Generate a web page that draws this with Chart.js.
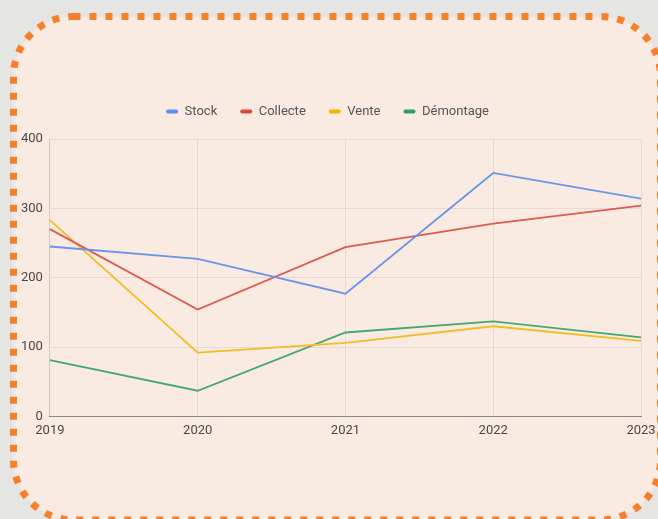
<!DOCTYPE html>
<html>
<head>
<meta charset="utf-8">
<script src="https://cdn.jsdelivr.net/npm/chart.js@4"></script>
<style>
  html, body { margin: 0; padding: 0; background: #e5e5e3; }
  #wrap { width: 658px; height: 519px; }
</style>
</head>
<body>
<div id="wrap"><canvas id="lineChart" width="658" height="519"></canvas></div>
<script>
const years = ['2019', '2020', '2021', '2022', '2023']
const stock = [245, 227, 177, 351, 314]
const collecte = [270, 154, 244, 278, 304]
const vente = [283, 92, 106, 130, 109]
const demontage = [81, 37, 121, 137, 114]
const yTicks = [0, 100, 200, 300, 400]

// fond gris + carte pêche avec bordure pointillée orange
const cardBackground = {
    id: 'cardBackground',
    beforeDraw: (chart) => {
        const ctx = chart.ctx
        const w = chart.width, h = chart.height
        ctx.save()
        ctx.fillStyle = '#e5e5e3'
        ctx.fillRect(0, 0, w, h)
        const x0 = 13.5, y0 = 16.5, x1 = 660.5, y1 = 520, r = 60
        ctx.beginPath()
        ctx.moveTo(x0 + r, y0)
        ctx.lineTo(x1 - r, y0)
        ctx.arcTo(x1, y0, x1, y0 + r, r)
        ctx.lineTo(x1, y1 - r)
        ctx.arcTo(x1, y1, x1 - r, y1, r)
        ctx.lineTo(x0 + r, y1)
        ctx.arcTo(x0, y1, x0, y1 - r, r)
        ctx.lineTo(x0, y0 + r)
        ctx.arcTo(x0, y0, x0 + r, y0, r)
        ctx.closePath()
        ctx.fillStyle = '#f9ebe2'
        ctx.fill()
        ctx.strokeStyle = '#f77f2c'
        ctx.lineWidth = 7
        ctx.setLineDash([7, 9])
        ctx.stroke()
        ctx.restore()
    }
}

// un peu plus d'espace sous la légende
const legendGap = {
    id: 'legendGap',
    beforeInit: (chart) => {
        const fit = chart.legend.fit
        chart.legend.fit = function () {
            fit.bind(chart.legend)()
            this.height += 11
        }
    }
}

const ctx = document.getElementById('lineChart').getContext('2d')

new Chart(ctx, {
    type: 'line',
    data: {
        labels: years,
        datasets: [
            { label: 'Stock', data: stock, borderColor: '#6a95e8', backgroundColor: '#5b8ff0' },
            { label: 'Collecte', data: collecte, borderColor: '#dd5a50', backgroundColor: '#e0463a' },
            { label: 'Vente', data: vente, borderColor: '#f2bc25', backgroundColor: '#f4b400' },
            { label: 'Démontage', data: demontage, borderColor: '#44a96c', backgroundColor: '#2f9e5e' }
        ]
    },
    options: {
        responsive: false,
        animation: false,
        elements: {
            point: { radius: 0, hitRadius: 10 },
            line: { borderWidth: 1.8, tension: 0 }
        },
        layout: {
            padding: { top: 82, left: 14, right: 17, bottom: 73 }
        },
        scales: {
            x: {
                afterFit: (scale) => { scale.paddingRight = 0 },
                grid: { color: 'rgba(0,0,0,0.07)', drawTicks: false },
                border: { color: '#8a8a8a', width: 1 },
                ticks: {
                    color: '#484848',
                    padding: 7,
                    maxRotation: 0,
                    font: { family: 'Roboto', size: 13 }
                }
            },
            y: {
                min: 0,
                max: 400,
                afterBuildTicks: (axis) => { axis.ticks = yTicks.map(v => ({ value: v })) },
                grid: { color: 'rgba(0,0,0,0.07)', drawTicks: false },
                border: { color: 'rgba(0,0,0,0.08)' },
                ticks: {
                    color: '#484848',
                    padding: 7,
                    font: { family: 'Roboto', size: 13 }
                }
            }
        },
        plugins: {
            tooltip: { enabled: false },
            legend: {
                position: 'top',
                labels: {
                    boxWidth: 12,
                    boxHeight: 4,
                    useBorderRadius: true,
                    borderRadius: 2,
                    padding: 23,
                    color: '#555',
                    font: { family: 'Roboto', size: 13 },
                    generateLabels: (chart) => chart.data.datasets.map((ds, i) => ({
                        text: ds.label,
                        fillStyle: ds.backgroundColor,
                        strokeStyle: ds.backgroundColor,
                        lineWidth: 0,
                        borderRadius: 2,
                        fontColor: '#555',
                        datasetIndex: i
                    }))
                }
            }
        }
    },
    plugins: [cardBackground, legendGap]
})
</script>
</body>
</html>
